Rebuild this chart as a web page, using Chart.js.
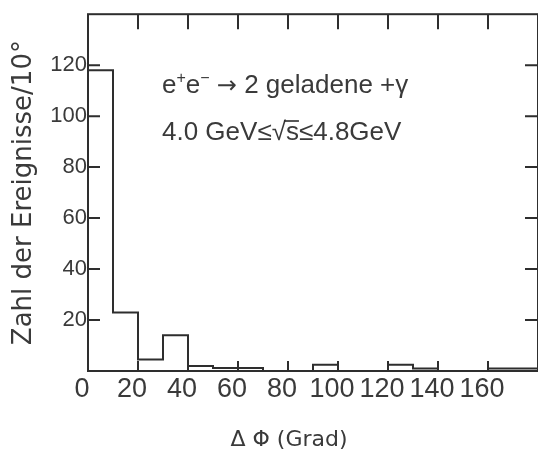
<!DOCTYPE html>
<html lang="de">
<head>
    <meta charset="UTF-8">
    <title>Delta Phi Verteilung</title>
    <script src="https://cdn.jsdelivr.net/npm/chart.js"></script>
    <style>
        html, body { margin: 0; padding: 0; background: #fff; }
        .chart-container { width: 538px; height: 450px; }
    </style>
</head>
<body>
    <div class="chart-container">
        <canvas id="histChart"></canvas>
    </div>

    <script>
        // Histogramm, 10 Grad Bins
        const binEdges = [0, 10, 20, 30, 40, 50, 60, 70, 80, 90, 100, 110, 120, 130, 140, 150, 160, 170, 180];
        const counts = [118, 23, 4.5, 14, 2, 1.2, 1.2, 0, 0, 2.5, 0, 0, 2.5, 1, 0, 0, 1, 1];
        const xTicks = [0, 20, 40, 60, 80, 100, 120, 140, 160];
        const yTicks = [20, 40, 60, 80, 100, 120];
        const innerTicksX = [20, 40, 60, 80, 100, 120, 140, 160];

        const ink = '#2e2e2e';
        const textInk = '#3a3a3a';

        // stepped outline: one point per bin edge
        const points = binEdges.map((x, i) => ({ x: x, y: counts[Math.min(i, counts.length - 1)] }));

        const framePlugin = {
            id: 'frame',
            afterDraw(chart) {
                const ctx = chart.ctx;
                const a = chart.chartArea;
                const xs = chart.scales.x, ys = chart.scales.y;
                ctx.save();
                ctx.strokeStyle = ink;
                ctx.lineWidth = 2;
                ctx.strokeRect(a.left, a.top, a.right - a.left, a.bottom - a.top);
                ctx.beginPath();
                yTicks.forEach(v => {
                    const py = ys.getPixelForValue(v);
                    ctx.moveTo(a.left, py); ctx.lineTo(a.left + 12, py);
                    ctx.moveTo(a.right, py); ctx.lineTo(a.right - 13, py);
                });
                innerTicksX.forEach(v => {
                    const px = xs.getPixelForValue(v);
                    ctx.moveTo(px, a.top); ctx.lineTo(px, a.top + 15);
                    ctx.moveTo(px, a.bottom); ctx.lineTo(px, a.bottom - 10);
                });
                ctx.stroke();

                // Beschriftung im Bild
                ctx.fillStyle = textInk;
                ctx.textBaseline = 'alphabetic';
                let x = 162;
                const seg = (t, size, dy, fam) => {
                    ctx.font = size + 'px ' + (fam || '"Liberation Sans"');
                    ctx.fillText(t, x, 93 + dy);
                    x += ctx.measureText(t).width;
                };
                seg('e', 26, 0); seg('+', 16, -10); seg('e', 26, 0); seg('\u2212', 16, -10);
                seg(' ', 26, 0); seg('\u2192', 24, 0, '"DejaVu Sans"');
                seg(' 2 geladene +\u03b3', 26, 0);

                x = 162;
                const seg2 = (t) => {
                    ctx.font = '26px "Liberation Sans"';
                    ctx.fillText(t, x, 140);
                    const w = ctx.measureText(t).width;
                    x += w;
                    return w;
                };
                seg2('4.0 GeV\u2264\u221a');
                const sx = x;
                const sw = seg2('s');
                ctx.beginPath();
                ctx.moveTo(sx - 2, 121); ctx.lineTo(sx + sw, 121);
                ctx.lineWidth = 1.6;
                ctx.stroke();
                seg2('\u22644.8GeV');

                ctx.font = '22px "DejaVu Sans"';
                ctx.textAlign = 'center';
                ctx.fillText('\u0394 \u03a6 (Grad)', 289, 446);
                ctx.restore();
            }
        };

        const ctx = document.getElementById('histChart').getContext('2d');
        new Chart(ctx, {
            type: 'line',
            data: {
                datasets: [{
                    data: points,
                    stepped: 'before',
                    borderColor: ink,
                    borderWidth: 2,
                    pointRadius: 0,
                    fill: false
                }]
            },
            options: {
                responsive: true,
                maintainAspectRatio: false,
                animation: false,
                layout: { padding: { top: 12, right: 0, left: 0, bottom: 0 } },
                plugins: { legend: { display: false }, tooltip: { enabled: false } },
                scales: {
                    x: {
                        type: 'linear',
                        min: 0,
                        max: 180,
                        afterBuildTicks: s => { s.ticks = xTicks.map(v => ({ value: v })); },
                        afterFit: s => { s.height = 79; },
                        grid: { display: false, drawTicks: false },
                        border: { display: false },
                        ticks: {
                            color: textInk,
                            font: { family: '"Liberation Sans"', size: 27 },
                            padding: 2,
                            labelOffset: -6,
                            maxRotation: 0,
                            autoSkip: false
                        }
                    },
                    y: {
                        min: 0,
                        max: 140,
                        afterBuildTicks: s => { s.ticks = yTicks.map(v => ({ value: v })); },
                        afterFit: s => { s.width = 88; },
                        grid: { display: false, drawTicks: false },
                        border: { display: false },
                        ticks: {
                            color: textInk,
                            font: { family: '"Liberation Sans"', size: 22 },
                            padding: 1,
                            autoSkip: false
                        },
                        title: {
                            display: true,
                            text: 'Zahl der Ereignisse/10\u00b0',
                            color: textInk,
                            font: { family: '"DejaVu Sans"', size: 26 },
                            padding: { top: 9, bottom: 0 }
                        }
                    }
                }
            },
            plugins: [framePlugin]
        });
    </script>
</body>
</html>
